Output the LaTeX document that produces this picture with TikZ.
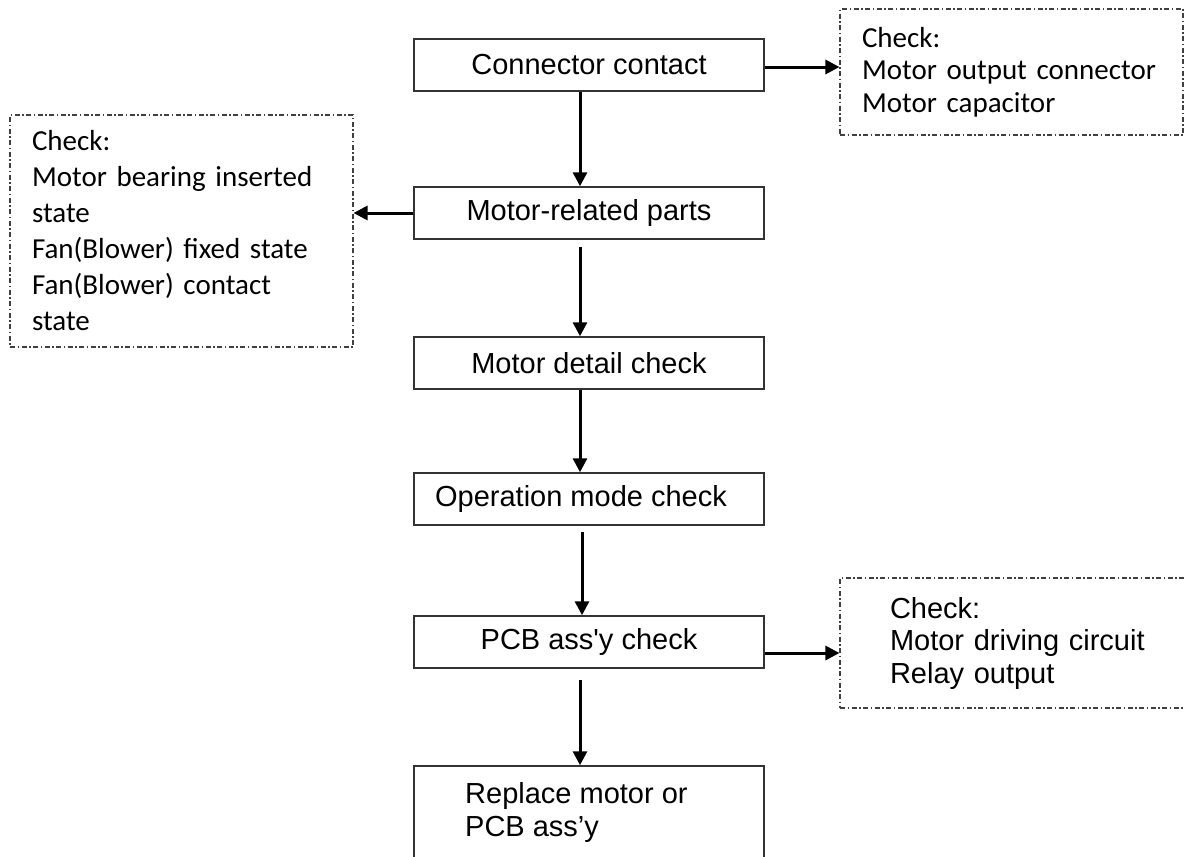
\documentclass[tikz,border=0pt]{standalone}
\usepackage{fontspec}
\setmainfont{Liberation Sans}
\newfontfamily\calfont{Carlito}
\usetikzlibrary{arrows.meta,calc}
\begin{document}
\begin{tikzpicture}[x=1pt,y=-1pt,
  flowbox/.style={draw=black!80, line width=1.5pt, minimum width=350pt, minimum height=52pt, inner sep=0pt, font=\fontsize{29}{33}\selectfont},
  notebox/.style={draw=black!75, line width=1.1pt, dash pattern=on 5pt off 2.5pt on 1.5pt off 2.5pt, align=left, inner ysep=0pt},
  arr/.style={line width=3pt, -{Triangle[length=14pt,width=14pt]}}
]
\path[use as bounding box, clip] (0,0) rectangle (1184,857);
\fill[white] (0,0) rectangle (1184,857);

% main flow boxes
\node[flowbox] (cc)  at (589,65)  {Connector contact};
\node[flowbox] (mr)  at (589,213) {Motor-related parts};
\node[flowbox] (md)  at (589,363) {Motor detail check};
\node[flowbox] (om)  at (589,499) {Operation mode check\hspace*{16pt}};
\node[flowbox] (pcb) at (589,642) {PCB ass\textquotesingle y check};
\node[flowbox, minimum height=120pt] (rp) at (589,826) {};
\node[anchor=north west, align=left, inner sep=0pt, font=\fontsize{29}{33}\selectfont] (rptext) at (465,782) {Replace motor or\\PCB ass’y};

% note boxes
\node[notebox, text width=299pt, inner xsep=22pt, minimum height=126pt, font=\calfont\fontsize{29}{32.5}\selectfont] (r1) at (1011.5,72)
  {Check:\\Motor output connector\\Motor capacitor};
\node[notebox, text width=299pt, inner xsep=22pt, minimum height=232pt, font=\calfont\fontsize{29}{36}\selectfont] (lb) at (181.5,231)
  {Check:\\Motor bearing inserted\\state\\Fan(Blower) fixed state\\Fan(Blower) contact\\state};
\node[notebox, text width=260pt, inner xsep=50pt, minimum height=130pt, font=\fontsize{29}{32.5}\selectfont] (r3) at (1020,643)
  {Check:\\Motor driving circuit\\Relay output};

% connectors
\coordinate (p1) at ($(cc.east)+(0,2)$);
\coordinate (p3) at ($(pcb.east)+(0,11)$);
\draw[arr] (p1) -- (p1 -| r1.west);
\draw[arr] (mr.west) -- (mr.west -| lb.east);
\draw[arr] (p3) -- (p3 -| r3.west);

\draw[arr] ([xshift=-9pt]cc.south) -- ([xshift=-9pt]mr.north);
\draw[arr, shorten <=7pt] ([xshift=-9pt]mr.south) -- ([xshift=-9pt]md.north);
\draw[arr] ([xshift=-9pt]md.south) -- ([xshift=-9pt]om.north);
\draw[arr, shorten <=6pt] ([xshift=-7pt]om.south) -- ([xshift=-7pt]pcb.north);
\draw[arr, shorten <=11pt] ([xshift=-9pt]pcb.south) -- ([xshift=-9pt]rp.north);
\end{tikzpicture}
\end{document}
